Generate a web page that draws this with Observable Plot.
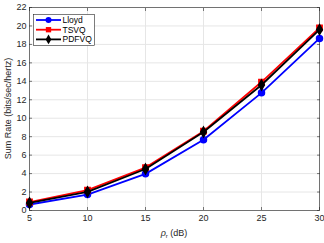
<!DOCTYPE html>
<html><head><meta charset="utf-8">
<script src="https://cdn.jsdelivr.net/npm/d3@7"></script>
<script src="https://cdn.jsdelivr.net/npm/@observablehq/plot@0.6"></script>
<style>body{margin:0;background:#fff;} svg{display:block;}</style>
</head><body><div id="chart"></div>
<script>
const snr = [5, 10, 15, 20, 25, 30];
const lloyd = [0.65, 1.73, 3.97, 7.66, 12.75, 18.65];
const tsvq = [0.92, 2.2, 4.65, 8.6, 13.92, 19.8];
const pdfvq = [0.82, 2.02, 4.5, 8.5, 13.6, 19.6];
const seriesNames = ["Lloyd", "TSVQ", "PDFVQ"];
const seriesColors = ["#0000ff", "#ff0000", "#000000"];
const seriesSymbols = ["circle", "square", "diamond"];
const xTicks = [5, 10, 15, 20, 25, 30];
const yTicks = [0, 2, 4, 6, 8, 10, 12, 14, 16, 18, 20, 22];

const allSeries = [lloyd, tsvq, pdfvq];
const rows = allSeries.flatMap((vals, i) => vals.map((v, j) => ({x: snr[j], y: v, s: seriesNames[i]})));

const font = "'Liberation Sans', Arial, sans-serif";
const axisColor = "#262626";

const marks = [
  Plot.gridX(xTicks, {stroke: "#e6e6e6", strokeOpacity: 1}),
  Plot.gridY(yTicks, {stroke: "#e6e6e6", strokeOpacity: 1}),
  Plot.axisX(xTicks, {anchor: "bottom", tickSize: -3, tickPadding: 7, fontSize: 9, color: axisColor, label: null, strokeWidth: 0.6}),
  Plot.axisX(xTicks, {anchor: "top", tickSize: -3, tickFormat: () => "", label: null, color: axisColor, strokeWidth: 0.6}),
  Plot.axisY(yTicks, {anchor: "left", tickSize: -3, tickPadding: 6, fontSize: 9, color: axisColor, label: null, strokeWidth: 0.6}),
  Plot.axisY(yTicks, {anchor: "right", tickSize: -3, tickFormat: () => "", label: null, color: axisColor, strokeWidth: 0.6}),
  Plot.frame({stroke: axisColor, strokeWidth: 0.6})
];
seriesNames.forEach((name, i) => {
  const data = rows.filter(d => d.s === name);
  marks.push(Plot.line(data, {x: "x", y: "y", stroke: seriesColors[i], strokeWidth: 1.8}));
  marks.push(Plot.dot(data, {x: "x", y: "y", fill: seriesColors[i], stroke: seriesColors[i], symbol: () => seriesSymbols[i], r: 3}));
});

const plot = Plot.plot({
  width: 324, height: 243,
  marginLeft: 29, marginRight: 5, marginTop: 7, marginBottom: 33,
  style: {fontFamily: font, background: "#fff"},
  x: {domain: [5, 30], axis: null},
  y: {domain: [0, 22], axis: null},
  symbol: {type: "identity"},
  marks
});

const svg = d3.select(plot);
// axis labels
svg.append("text")
  .attr("transform", "translate(9,108.5) rotate(-90)")
  .attr("text-anchor", "middle").attr("dominant-baseline", "middle")
  .attr("font-family", font).attr("font-size", 9).attr("fill", axisColor)
  .text("Sum Rate (bits/sec/hertz)");
const xl = svg.append("text")
  .attr("x", 174).attr("y", 236)
  .attr("text-anchor", "middle")
  .attr("font-family", font).attr("font-size", 9).attr("fill", axisColor);
xl.append("tspan").attr("font-style", "italic").text("ρ");
xl.append("tspan").attr("font-size", 6).attr("dy", 2).text("r");
xl.append("tspan").attr("dy", -2).text(" (dB)");

// legend
const lg = svg.append("g");
lg.append("rect").attr("x", 33.5).attr("y", 14.5).attr("width", 61).attr("height", 31)
  .attr("fill", "#fff").attr("stroke", axisColor).attr("stroke-width", 0.6);
const sym = {circle: d3.symbolCircle, square: d3.symbolSquare, diamond: d3.symbolDiamond};
seriesNames.forEach((name, i) => {
  const y = 20 + i * 9.7;
  lg.append("line").attr("x1", 36).attr("x2", 61).attr("y1", y).attr("y2", y)
    .attr("stroke", seriesColors[i]).attr("stroke-width", 1.8);
  lg.append("path").attr("transform", `translate(48.5,${y})`)
    .attr("d", d3.symbol(sym[seriesSymbols[i]], Math.PI * 3 * 3)())
    .attr("fill", seriesColors[i]);
  lg.append("text").attr("x", 62.5).attr("y", y).attr("dominant-baseline", "central")
    .attr("text-anchor", "start")
    .attr("font-family", font).attr("font-size", 8.5).attr("fill", "#000").text(name);
});

document.getElementById("chart").appendChild(plot);
</script>
</body></html>
